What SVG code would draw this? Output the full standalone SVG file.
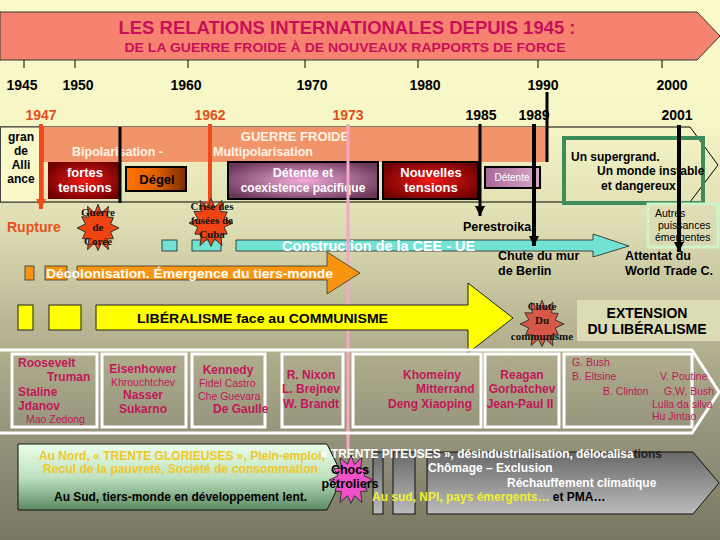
<svg xmlns="http://www.w3.org/2000/svg" width="720" height="540" viewBox="0 0 720 540">
<defs>
<linearGradient id="bg" x1="0" y1="0" x2="0" y2="1">
<stop offset="0" stop-color="#fbfbca"/><stop offset="0.22" stop-color="#f6f6c6"/><stop offset="0.42" stop-color="#dedcb2"/><stop offset="0.6" stop-color="#b9b793"/><stop offset="0.8" stop-color="#96947b"/><stop offset="1" stop-color="#7a7862"/>
</linearGradient>
<radialGradient id="gRed" cx="0.5" cy="0.5" r="0.6"><stop offset="0" stop-color="#ee1a1a"/><stop offset="1" stop-color="#6e0000"/></radialGradient>
<linearGradient id="gDegel" x1="0" y1="0" x2="1" y2="0"><stop offset="0" stop-color="#ff7400"/><stop offset="0.5" stop-color="#e06000"/><stop offset="1" stop-color="#7a2c00"/></linearGradient>
<radialGradient id="gPurple" cx="0.5" cy="0.5" r="0.6"><stop offset="0" stop-color="#f2aadb"/><stop offset="1" stop-color="#6a3858"/></radialGradient>
<linearGradient id="gDet" x1="0" y1="0" x2="1" y2="0"><stop offset="0" stop-color="#a86898"/><stop offset="1" stop-color="#d8a8cc"/></linearGradient>
<linearGradient id="gGreen" x1="0" y1="0" x2="0" y2="1"><stop offset="0" stop-color="#eafeea"/><stop offset="0.5" stop-color="#bfe2c0"/><stop offset="1" stop-color="#5c8a62"/></linearGradient>
<linearGradient id="gGray" x1="0" y1="0" x2="0" y2="1"><stop offset="0" stop-color="#686868"/><stop offset="1" stop-color="#bcbcbc"/></linearGradient>
<marker id="aR" markerUnits="userSpaceOnUse" markerWidth="11" markerHeight="10" refX="10" refY="5" orient="auto"><path d="M0,0 L10,5 L0,10 z" fill="#f04a1a"/></marker>
<marker id="aK" markerUnits="userSpaceOnUse" markerWidth="11" markerHeight="10" refX="10" refY="5" orient="auto"><path d="M0,0 L10,5 L0,10 z" fill="#000"/></marker>
<path id="star" vector-effect="non-scaling-stroke" d="M1,0 L0.599,0.16 L0.736,0.425 L0.438,0.438 L0.5,0.866 L0.16,0.599 L0,0.9 L-0.16,0.599 L-0.5,0.866 L-0.438,0.438 L-0.736,0.425 L-0.599,0.16 L-1,0 L-0.599,-0.16 L-0.779,-0.45 L-0.438,-0.438 L-0.5,-0.866 L-0.16,-0.599 L0,-0.95 L0.16,-0.599 L0.5,-0.866 L0.438,-0.438 L0.736,-0.425 L0.599,-0.16 Z"/>
<style>
text{font-family:"Liberation Sans",Arial,sans-serif}
.b{font-weight:bold}
.m{text-anchor:middle}
.yr{font-size:14px;font-weight:bold;fill:#000;text-anchor:middle}
.yo{fill:#e0501c}
.w{fill:#fff}
.k{fill:#000}
.pn{font-size:12px;font-weight:bold;fill:#c0185a}
.ps{font-size:10.5px;fill:#c0185a}
.st{font-family:"Liberation Serif","Times New Roman",serif;font-size:11px;font-weight:bold;fill:#111;text-anchor:middle}
.pbox{fill:none;stroke:#fff;stroke-width:3}
.tick{stroke:#000;stroke-width:1}
</style>
</defs>

<rect x="0" y="0" width="720" height="540" fill="url(#bg)"/>

<g id="title">
<path d="M0,12 L697,12 L720,36 L697,60 L0,60 Z" fill="#f6836f" stroke="#333" stroke-width="1"/>
<text x="347" y="34" class="b m" font-size="17.5" fill="#c8105a" textLength="457" lengthAdjust="spacingAndGlyphs">LES RELATIONS INTERNATIONALES DEPUIS  1945  :</text>
<text x="345" y="52" class="b m" font-size="13.5" fill="#c8105a" textLength="441" lengthAdjust="spacingAndGlyphs">DE LA GUERRE FROIDE À DE NOUVEAUX RAPPORTS DE FORCE</text>
</g>

<g id="scale">
<line class="tick" x1="24" y1="60" x2="24" y2="68"/>
<line class="tick" x1="75" y1="60" x2="75" y2="68"/>
<line class="tick" x1="188" y1="60" x2="188" y2="68"/>
<line class="tick" x1="305" y1="60" x2="305" y2="68"/>
<line class="tick" x1="418" y1="60" x2="418" y2="68"/>
<line class="tick" x1="538" y1="60" x2="538" y2="68"/>
<line class="tick" x1="662" y1="60" x2="662" y2="68"/>
<text class="yr" x="22" y="90">1945</text>
<text class="yr" x="78" y="90">1950</text>
<text class="yr" x="186" y="90">1960</text>
<text class="yr" x="312" y="90">1970</text>
<text class="yr" x="425" y="90">1980</text>
<text class="yr" x="543" y="90">1990</text>
<text class="yr" x="672" y="90">2000</text>
<text class="yr yo" x="41" y="120">1947</text>
<text class="yr yo" x="210" y="120">1962</text>
<text class="yr yo" x="348" y="120">1973</text>
<text class="yr" x="481" y="120">1985</text>
<text class="yr" x="534" y="120">1989</text>
<text class="yr" x="677" y="120">2001</text>
</g>

<g id="timeline-band">
<path d="M0,127 L690,127 L718,165 L690,202 L0,202" fill="none" stroke="#000" stroke-width="1"/>
<rect x="43" y="127" width="503" height="35" fill="#f2946a"/>
<text x="295" y="141" class="b m" font-size="13" fill="#fff4e6">GUERRE FROIDE</text>
<text x="72" y="156" class="b" font-size="12.5" fill="#fff4e6">Bipolarisation  -</text>
<text x="213" y="156" class="b" font-size="12.5" fill="#fff4e6">Multipolarisation</text>
</g>

<g id="alliance">
<rect x="0.5" y="127" width="42.5" height="75" fill="#f8f8c8" stroke="#444" stroke-width="1"/>
<text x="21" y="141" class="b m k" font-size="12">gran</text>
<text x="21" y="155" class="b m k" font-size="12">de</text>
<text x="21" y="169" class="b m k" font-size="12">Alli</text>
<text x="21" y="183" class="b m k" font-size="12">ance</text>
</g>

<g id="fortes-tensions">
<rect x="48" y="162" width="72" height="37" fill="url(#gRed)"/>
<text x="85" y="177" class="b m w" font-size="13">fortes</text>
<text x="85" y="192" class="b m w" font-size="13">tensions</text>
</g>

<g id="degel">
<rect x="126" y="167" width="60" height="24" fill="url(#gDegel)" stroke="#000" stroke-width="2"/>
<text x="157" y="184" class="b m k" font-size="13">Dégel</text>
</g>

<g id="detente-coexistence">
<rect x="228" y="162" width="150" height="37" fill="url(#gPurple)" stroke="#000" stroke-width="2"/>
<text x="303" y="177" class="b m w" font-size="12.5">Détente et</text>
<text x="303" y="192" class="b m w" font-size="12">coexistence pacifique</text>
</g>

<g id="nouvelles-tensions">
<rect x="383" y="162" width="95" height="37" fill="url(#gRed)" stroke="#000" stroke-width="2"/>
<text x="431" y="177" class="b m w" font-size="13">Nouvelles</text>
<text x="431" y="192" class="b m w" font-size="13">tensions</text>
</g>

<g id="detente">
<rect x="485" y="167" width="55" height="21" fill="url(#gDet)" stroke="#000" stroke-width="2"/>
<text x="512" y="181" class="m w" font-size="10">Détente</text>
</g>

<g id="supergrand">
<rect x="564" y="138" width="139" height="65" fill="none" stroke="#3c8c5c" stroke-width="4"/>
<text x="571" y="161" class="b k" font-size="12">Un supergrand.</text>
<text x="597" y="175" class="b k" font-size="12">Un monde instable</text>
<text x="601" y="190" class="b k" font-size="12">et dangereux</text>
</g>

<g id="autres-puissances">
<rect x="648" y="204" width="70" height="43" fill="#d9d9b4" fill-opacity="0.5" stroke="#d0f4c8" stroke-width="3"/>
<text x="655" y="217" class="k" font-size="10.5">Autres</text>
<text x="658" y="229" class="k" font-size="10.5">puissances</text>
<text x="655" y="241" class="k" font-size="10.5">émergentes</text>
</g>

<g id="cee">
<rect x="162" y="240" width="15" height="11" fill="#72e2d2" stroke="#222" stroke-width="0.8"/>
<rect x="192" y="240" width="29" height="11" fill="#72e2d2" stroke="#222" stroke-width="0.8"/>
<path d="M236,240 L593,240 L593,234 L629,246 L593,257 L593,251 L236,251 Z" fill="#72e2d2" stroke="#222" stroke-width="0.8"/>
<text x="282" y="251" class="b w" font-size="14" textLength="193" lengthAdjust="spacingAndGlyphs">Construction de la CEE  -  UE</text>
</g>

<g id="pink-1973">
<line x1="348" y1="124" x2="348" y2="450" stroke="#f4a8c8" stroke-width="3"/>
</g>

<g id="connectors">
<line x1="41" y1="124" x2="41" y2="209" stroke="#f04a1a" stroke-width="4" marker-end="url(#aR)"/>
<line x1="210" y1="124" x2="210" y2="211" stroke="#f04a1a" stroke-width="4" marker-end="url(#aR)"/>
<line x1="120" y1="127" x2="120" y2="203" stroke="#000" stroke-width="3"/>
<line x1="480" y1="124" x2="480" y2="216" stroke="#000" stroke-width="3" marker-end="url(#aK)"/>
<line x1="534" y1="124" x2="534" y2="246" stroke="#000" stroke-width="4" marker-end="url(#aK)"/>
<line x1="547" y1="92" x2="547" y2="162" stroke="#000" stroke-width="3"/>
<line x1="679" y1="125" x2="679" y2="252" stroke="#000" stroke-width="4" marker-end="url(#aK)"/>
</g>

<g id="rupture">
<text x="7" y="232" class="b" font-size="14" fill="#e85020">Rupture</text>
</g>

<g id="coree">
<use href="#star" transform="translate(98,228) scale(21,25)" fill="#f04412" stroke="#333" stroke-width="1"/>
<text x="98" y="216" class="st">Guerre</text>
<text x="98" y="231" class="st">de</text>
<text x="98" y="245" class="st">Corée</text>
</g>

<g id="cuba">
<use href="#star" transform="translate(211,223) scale(22,26)" fill="#f04412" stroke="#333" stroke-width="1"/>
<text x="212" y="210" class="st">Crise des</text>
<text x="212" y="224" class="st">fusées de</text>
<text x="212" y="238" class="st">Cuba</text>
</g>

<g id="perestroika">
<text x="463" y="231" class="b k" font-size="12.5">Perestroika</text>
</g>

<g id="mur-berlin">
<text x="498" y="260" class="b k" font-size="12.5">Chute du mur</text>
<text x="498" y="275" class="b k" font-size="12.5">de Berlin</text>
</g>

<g id="wtc">
<text x="625" y="260" class="b k" font-size="12.5">Attentat du</text>
<text x="625" y="275" class="b k" font-size="12.5">World Trade C.</text>
</g>

<g id="decolonisation">
<rect x="25" y="266" width="9" height="14" fill="#f79410" stroke="#333" stroke-width="0.8"/>
<rect x="45" y="266" width="22" height="14" fill="#f79410" stroke="#333" stroke-width="0.8"/>
<path d="M77,266 L327,266 L327,252 L360,273 L327,294 L327,280 L77,280 Z" fill="#f79410" stroke="#333" stroke-width="0.8"/>
<text x="46" y="278" class="b w" font-size="13" textLength="287" lengthAdjust="spacingAndGlyphs">Décolonisation. Émergence du tiers-monde</text>
</g>

<g id="liberalisme">
<rect x="18" y="305" width="15" height="25" fill="#ffff00" stroke="#222" stroke-width="1"/>
<rect x="49" y="305" width="32" height="25" fill="#ffff00" stroke="#222" stroke-width="1"/>
<path d="M96,305 L468,305 L468,283 L513,318 L468,353 L468,330 L96,330 Z" fill="#ffff00" stroke="#222" stroke-width="1"/>
<text x="137" y="323" class="b k" font-size="13" textLength="251" lengthAdjust="spacingAndGlyphs">LIBÉRALISME face  au COMMUNISME</text>
</g>

<g id="chute-communisme">
<use href="#star" transform="translate(542,324) scale(22,25)" fill="#d85848" stroke="#333" stroke-width="1"/>
<text x="542" y="310" class="st">Chute</text>
<text x="542" y="324" class="st">Du</text>
<text x="542" y="340" class="st">communisme</text>
</g>

<g id="extension">
<rect x="577" y="300" width="143" height="41" fill="#dcdcb4"/>
<text x="647" y="318" class="b m k" font-size="14">EXTENSION</text>
<text x="647" y="334" class="b m k" font-size="14">DU LIBÉRALISME</text>
</g>

<g id="personnalites">
<path d="M0,350 L692,350 L719,392 L692,433 L0,433" fill="none" stroke="#fff" stroke-width="3"/>
<rect class="pbox" x="12" y="354" width="85" height="73"/>
<rect class="pbox" x="102" y="354" width="84" height="73"/>
<rect class="pbox" x="192" y="354" width="73" height="73"/>
<rect class="pbox" x="282" y="354" width="61" height="73"/>
<rect class="pbox" x="353" y="354" width="128" height="73"/>
<rect class="pbox" x="485" y="354" width="74" height="73"/>
<rect class="pbox" x="564" y="354" width="128" height="73"/>
</g>

<g id="p1945">
<text x="18" y="367" class="pn">Roosevelt</text>
<text x="47" y="381" class="pn">Truman</text>
<text x="18" y="396" class="pn">Staline</text>
<text x="18" y="410" class="pn">Jdanov</text>
<text x="26" y="423" class="ps" font-size="9.5">Mao Zedong</text>
</g>
<g id="p1950">
<text x="143" y="373" class="pn m">Eisenhower</text>
<text x="143" y="386" class="ps m">Khrouchtchev</text>
<text x="143" y="399" class="pn m">Nasser</text>
<text x="143" y="413" class="pn m">Sukarno</text>
</g>
<g id="p1960">
<text x="228" y="374" class="pn m">Kennedy</text>
<text x="199" y="387" class="ps">Fidel Castro</text>
<text x="198" y="400" class="ps">Che Guevara</text>
<text x="213" y="413" class="pn">De Gaulle</text>
</g>
<g id="p1970">
<text x="311" y="379" class="pn m">R. Nixon</text>
<text x="311" y="393" class="pn m">L. Brejnev</text>
<text x="311" y="408" class="pn m">W. Brandt</text>
</g>
<g id="p1980">
<text x="403" y="379" class="pn">Khomeiny</text>
<text x="416" y="393" class="pn">Mitterrand</text>
<text x="388" y="408" class="pn">Deng Xiaoping</text>
</g>
<g id="p1985">
<text x="522" y="379" class="pn m">Reagan</text>
<text x="522" y="393" class="pn m">Gorbatchev</text>
<text x="520" y="408" class="pn m">Jean-Paul II</text>
</g>
<g id="p1990">
<text x="572" y="366" class="ps">G. Bush</text>
<text x="572" y="380" class="ps">B. Eltsine</text>
<text x="660" y="380" class="ps">V. Poutine</text>
<text x="603" y="395" class="ps">B. Clinton</text>
<text x="664" y="395" class="ps">G.W. Bush</text>
<text x="652" y="408" class="ps">Lulla da silva</text>
<text x="652" y="420" class="ps">Hu Jintao</text>
</g>

<g id="trente-glorieuses">
<path d="M18,444 L327,444 L343,477 L327,510 L18,510 Z" fill="url(#gGreen)" stroke="#111" stroke-width="1"/>
<text x="39" y="460" class="b" font-size="12" fill="#f0c828" textLength="286" lengthAdjust="spacingAndGlyphs">Au Nord, « TRENTE GLORIEUSES », Plein-emploi,</text>
<text x="43" y="473" class="b" font-size="12" fill="#f0c828" textLength="275" lengthAdjust="spacingAndGlyphs">Recul de la pauvreté, Société  de consommation</text>
<text x="54" y="501" class="b k" font-size="12" textLength="253" lengthAdjust="spacingAndGlyphs">Au Sud, tiers-monde en développement lent.</text>
</g>

<g id="trente-piteuses">
<rect x="373" y="452" width="10" height="62" fill="url(#gGray)" stroke="#111" stroke-width="1"/>
<rect x="393" y="452" width="22" height="62" fill="url(#gGray)" stroke="#111" stroke-width="1"/>
<path d="M427,452 L693,452 L719,483 L693,514 L427,514 Z" fill="url(#gGray)" stroke="#111" stroke-width="1"/>
<text x="321" y="458" class="b w" font-size="12" textLength="341" lengthAdjust="spacingAndGlyphs">« TRENTE PITEUSES », désindustrialisation, délocalisa<tspan fill="#222">tions</tspan></text>
<text x="428" y="472" class="b w" font-size="12">Chômage – Exclusion</text>
<text x="507" y="487" class="b w" font-size="12">Réchauffement climatique</text>
<text x="372" y="501" class="b" font-size="12" fill="#f0f030">Au sud,  NPI, pays émergents… <tspan fill="#000">et PMA…</tspan></text>
</g>

<g id="chocs-petroliers">
<use href="#star" transform="translate(351,480) scale(22,26)" fill="#f050c8" stroke="#333" stroke-width="1"/>
<text x="350" y="474" class="b m k" font-size="12.5">Chocs</text>
<text x="350" y="488" class="b m k" font-size="12.5">pétroliers</text>
</g>
</svg>
